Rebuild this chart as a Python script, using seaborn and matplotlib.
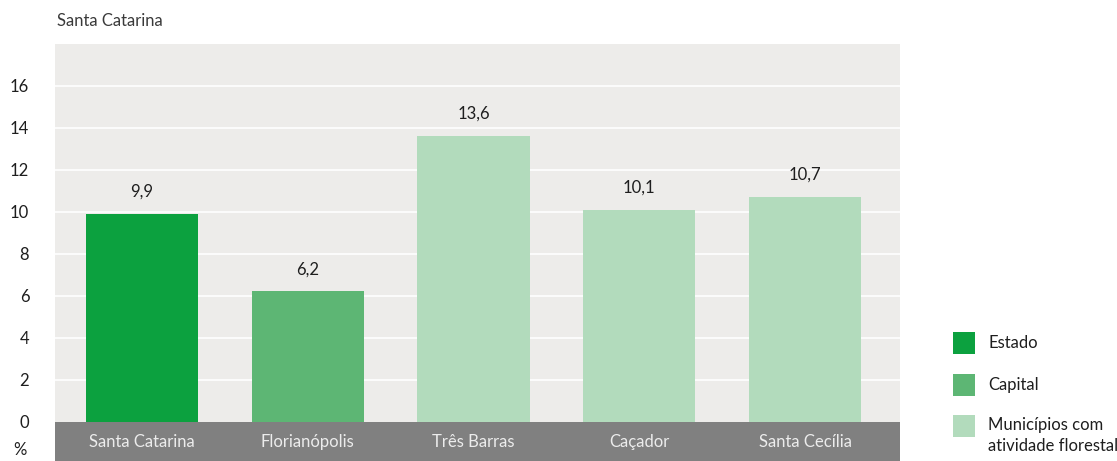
import matplotlib
matplotlib.use("Agg")
import matplotlib.pyplot as plt
from matplotlib.patches import Rectangle
import matplotlib.transforms as mtransforms
import seaborn as sns
import pandas as pd

# Data
categories = ["Santa Catarina", "Florianópolis", "Três Barras", "Caçador", "Santa Cecília"]
values = [9.9, 6.2, 13.6, 10.1, 10.7]
groups = ["Estado", "Capital", "Municípios com\natividade florestal",
          "Municípios com\natividade florestal", "Municípios com\natividade florestal"]
legend_labels = ["Estado", "Capital", "Municípios com\natividade florestal"]
legend_colors = ["#0ca13f", "#5db674", "#b2dbbc"]
y_ticks = [0, 2, 4, 6, 8, 10, 12, 14, 16]
title = "Santa Catarina"

sns.set_theme(style="white")
plt.rcParams["font.family"] = ["Lato", "DejaVu Sans"]

W, H = 1117, 461
df = pd.DataFrame({"cat": categories, "val": values, "grp": groups})
bar_colors = [legend_colors[legend_labels.index(g)] for g in groups]

fig = plt.figure(figsize=(W / 100, H / 100), dpi=100)
ax = fig.add_axes([55 / W, 39.5 / H, 845 / W, 377.5 / H])
ax.set_facecolor("#edecea")

for t in y_ticks[1:]:
    ax.axhline(t, color="white", lw=1.2, zorder=0)

sns.barplot(data=df, x="cat", y="val", hue="cat", palette=bar_colors,
            width=0.676, legend=False, ax=ax, saturation=1, zorder=2,
            linewidth=0, edgecolor="none")

ax.set_xlim(-0.525, 4.573)
ax.set_ylim(0, 18)
for s in ax.spines.values():
    s.set_visible(False)

# value labels above bars
for i, v in enumerate(values):
    ax.text(i, v + 0.68, f"{v:.1f}".replace(".", ","), ha="center", va="bottom",
            fontsize=12, color="#1e1e1e")

# y axis
ax.set_yticks(y_ticks)
ax.set_yticklabels([str(t) for t in y_ticks], fontsize=12, color="#1e1e1e")
ax.tick_params(axis="y", length=0, pad=18.5)
ax.set_xlabel("")
ax.set_ylabel("")

# category band below the plot, with the category names inside it
ax.set_xticks([])
ax.add_patch(Rectangle((0, -39.5 / 377.5), 1, 39.5 / 377.5, transform=ax.transAxes,
                       facecolor="#808080", edgecolor="none", clip_on=False, zorder=3))
band = mtransforms.blended_transform_factory(ax.transData, ax.transAxes)
for i, c in enumerate(categories):
    ax.text(i, -20 / 377.5, c, transform=band, ha="center", va="center",
            fontsize=12, color="#ececec", zorder=4, clip_on=False)

fig.text(20 / W, 1 - 450 / H, "%", fontsize=12, color="#1e1e1e", ha="center", va="center")
fig.text(57 / W, 1 - 21 / H, title, fontsize=12, color="#3a3a3a", ha="left", va="center")

# legend
sq = 22
for k, (lab, col) in enumerate(zip(legend_labels, legend_colors)):
    top = [332, 374, 415][k]
    fig.patches.append(Rectangle((953 / W, 1 - (top + sq) / H), sq / W, sq / H,
                                 transform=fig.transFigure, facecolor=col,
                                 edgecolor="none"))
    if "\n" in lab:
        fig.text(988 / W, 1 - (top + 2) / H, lab, fontsize=12, color="#1e1e1e",
                 ha="left", va="top", linespacing=1.35)
    else:
        fig.text(988 / W, 1 - (top + 11) / H, lab, fontsize=12, color="#1e1e1e",
                 ha="left", va="center")

fig.savefig("out.png", dpi=100)
